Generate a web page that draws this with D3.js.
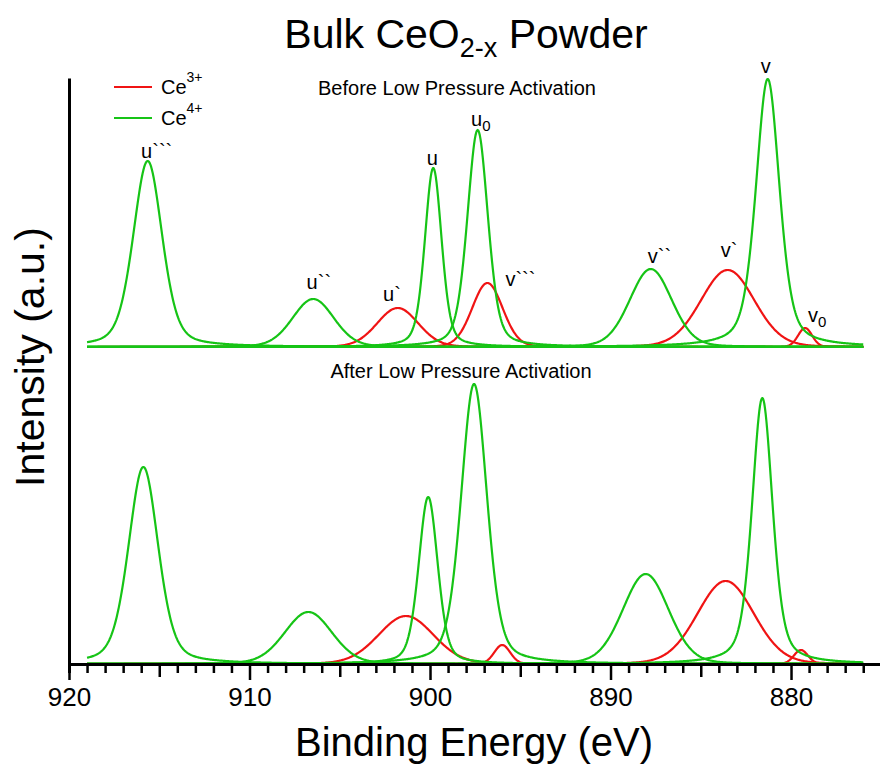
<!DOCTYPE html>
<html><head><meta charset="utf-8">
<script src="https://cdn.jsdelivr.net/npm/d3@7"></script>
<style>
body{margin:0;background:#fff}
svg{display:block}
text{font-family:"Liberation Sans",Arial,sans-serif;fill:#000}
</style>
</head><body>
<svg id="chart" width="880" height="774"></svg>
<script>
// ---------------- data ----------------
const peakNames   = ["u```","u``","u`","u","u0","v```","v``","v`","v","v0"];
const peakSpecies = ["Ce4+","Ce4+","Ce3+","Ce4+","Ce4+","Ce3+","Ce4+","Ce3+","Ce4+","Ce3+"];
// Lorentzian fraction of each pseudo-Voigt component
const peakLorentz = [0.35, 0.15, 0.10, 0.35, 0.35, 0.10, 0.15, 0.10, 0.45, 0.10];

// Before low pressure activation: centre (eV), height (a.u.), FWHM (eV)
const beforeCenter = [915.64, 906.47, 901.79, 899.82, 897.36, 896.82, 887.77, 883.51, 881.29, 879.22];
const beforeHeight = [186, 48, 39, 179, 217, 64, 78, 77, 268, 19];
const beforeFWHM   = [1.9, 2.7, 2.7, 1.1, 1.35, 2.0, 2.75, 3.5, 1.55, 0.92];

// After low pressure activation
const afterCenter = [915.88, 906.74, 901.33, 900.10, 897.56, 896.00, 888.05, 883.62, 881.59, 879.45];
const afterHeight = [197, 52, 48, 167, 280, 19, 90, 83, 266, 14];
const afterFWHM   = [1.95, 3.1, 3.6, 1.25, 1.7, 1.05, 3.0, 3.7, 1.35, 0.92];

const panelOffset = [317, 0];          // vertical stacking offset of the two spectra (a.u.)
const panelTitles = ["Before Low Pressure Activation", "After Low Pressure Activation"];
const energyStart = 919, energyEnd = 876;

const majorTicks = [920, 910, 900, 890, 880];
const midTicks   = [915, 905, 895, 885, 875];
const minorTicks = d3.range(920, 874, -1).filter(d => d % 5 !== 0);

const legendItems = [{base:"Ce", sup:"3+", sp:"Ce3+"}, {base:"Ce", sup:"4+", sp:"Ce4+"}];

// ---------------- styles ----------------
const colors = {"Ce3+":"#f01414", "Ce4+":"#16c416"};
const labelDX = [-1, -1, -9, -1, -1, 18, 2, -2, -2, 3];
const labelDY = [-3, -10, -7, -3, -4, 3, -6, -13, -6, -6];

const svg = d3.select("#chart");
const x = d3.scaleLinear().domain([920, 874.5]).range([69, 890.3]);
const y = d3.scaleLinear().domain([0, 586]).range([664, 78]);

function pv(e, c, h, w, eta) {
  const t = (e - c) / w;
  const G = Math.exp(-4 * Math.LN2 * t * t);
  const L = 1 / (1 + 4 * t * t);
  return h * (eta * L + (1 - eta) * G);
}

const energies = d3.range(energyStart, energyEnd - 0.001, -0.04);
const panels = [
  {c: beforeCenter, h: beforeHeight, w: beforeFWHM, off: panelOffset[0]},
  {c: afterCenter,  h: afterHeight,  w: afterFWHM,  off: panelOffset[1]}
];

const line = d3.line().x(d => x(d[0])).y(d => y(d[1])).curve(d3.curveLinear);

// draw red first, green on top
const order = d3.range(peakNames.length).sort((a, b) =>
  (peakSpecies[a] === "Ce3+" ? 0 : 1) - (peakSpecies[b] === "Ce3+" ? 0 : 1));

const curveG = svg.append("g");
panels.forEach(p => {
  order.forEach(i => {
    const pts = energies.map(e => [e, p.off + pv(e, p.c[i], p.h[i], p.w[i], peakLorentz[i])]);
    curveG.append("path")
      .attr("d", line(pts))
      .attr("fill", "none")
      .attr("stroke", colors[peakSpecies[i]])
      .attr("stroke-width", 2.2)
      .attr("stroke-linejoin", "round");
  });
});

// peak labels (top spectrum)
const lblG = svg.append("g").attr("font-size", 20);
peakNames.forEach((n, i) => {
  const px = x(beforeCenter[i]) + labelDX[i];
  const py = y(panelOffset[0] + beforeHeight[i]) + labelDY[i];
  const base = n[0];
  const rest = n.slice(1);
  const t = lblG.append("text")
    .attr("x", px - (i === 5 || i === 9 ? 0 : (base === "u" ? 5.6 : 5)))
    .attr("y", py);
  t.append("tspan").text(base);
  if (rest === "0") {
    t.append("tspan").attr("font-size", 15).attr("dy", 5).text("0");
  } else if (rest.length) {
    t.append("tspan").text(rest);
  }
});

// panel titles
svg.append("text").attr("x", 457).attr("y", 95).attr("text-anchor", "middle")
  .attr("font-size", 20).text(panelTitles[0]);
svg.append("text").attr("x", 461).attr("y", 378).attr("text-anchor", "middle")
  .attr("font-size", 20).text(panelTitles[1]);

// axes
const axG = svg.append("g").attr("transform", `translate(0,${y(0)})`);
axG.call(d3.axisBottom(x).tickValues(minorTicks).tickSize(9).tickFormat(""));
axG.call(g => g.selectAll(".tick line").attr("stroke-width", 2.5));
const axM = svg.append("g").attr("transform", `translate(0,${y(0)})`);
axM.call(d3.axisBottom(x).tickValues(midTicks).tickSize(13).tickFormat(""));
axM.selectAll(".tick line").attr("stroke-width", 2.5);
axM.select(".domain").remove();
const axL = svg.append("g").attr("transform", `translate(0,${y(0)})`);
axL.call(d3.axisBottom(x).tickValues(majorTicks).tickSize(16).tickPadding(8).tickFormat(d3.format("d")));
axL.selectAll(".tick line").attr("stroke-width", 2.5);
axL.selectAll(".tick text").attr("font-size", 26).attr("font-family", '"Liberation Sans",Arial,sans-serif');
axL.select(".domain").remove();
axG.select(".domain").attr("stroke-width", 3);

const axY = svg.append("g").attr("transform", `translate(${x(920)},0)`);
axY.call(d3.axisLeft(y).tickValues([]).tickSizeOuter(0));
axY.select(".domain").attr("stroke-width", 3);

// axis titles
svg.append("text").attr("x", 474).attr("y", 756).attr("text-anchor", "middle")
  .attr("font-size", 40).text("Binding Energy (eV)");
svg.append("text").attr("transform", "translate(44,357) rotate(-90)").attr("text-anchor", "middle")
  .attr("font-size", 41).text("Intensity (a.u.)");

// main title
const tt = svg.append("text").attr("x", 466).attr("y", 48).attr("text-anchor", "middle").attr("font-size", 41);
tt.append("tspan").text("Bulk CeO");
tt.append("tspan").attr("font-size", 27).attr("dy", 9).text("2-x");
tt.append("tspan").attr("dy", -9).text(" Powder");

// legend
const lg = svg.append("g");
legendItems.forEach((d, i) => {
  const ly = 87 + i * 31;
  lg.append("line").attr("x1", 114).attr("x2", 152).attr("y1", ly).attr("y2", ly)
    .attr("stroke", colors[d.sp]).attr("stroke-width", 2.2);
  const t = lg.append("text").attr("x", 161).attr("y", ly + 7).attr("font-size", 20);
  t.append("tspan").text(d.base);
  t.append("tspan").attr("font-size", 14).attr("dy", -12).text(d.sup);
});
</script>
</body></html>
